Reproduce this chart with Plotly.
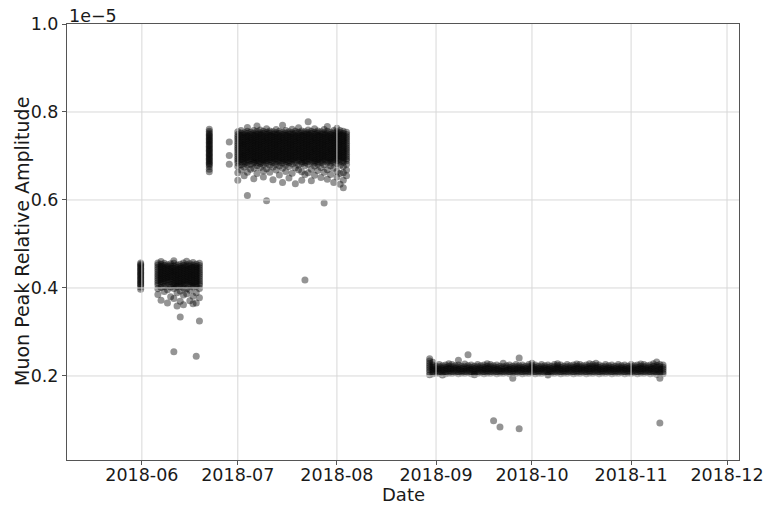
import plotly.graph_objects as go

# Muon peak relative amplitude readings, stored in units of 1e-8
# (the chart's y axis is shown in units of 1e-5). One list of readings per day.

early_june_dates = ["2018-05-31 15:00"]
early_june_values = [
    [397, 402, 406, 409, 412, 415, 418, 421, 424, 427, 430, 433, 436, 439, 442, 445, 448, 451, 454, 457],
]

june_dates = ["2018-06-06", "2018-06-07", "2018-06-08", "2018-06-09", "2018-06-10", "2018-06-11",
              "2018-06-12", "2018-06-13", "2018-06-14", "2018-06-15", "2018-06-16", "2018-06-17",
              "2018-06-18", "2018-06-19"]
june_values = [
    [385, 398, 407, 412, 417, 422, 427, 432, 437, 442, 447, 452, 457],
    [372, 401, 409, 414, 419, 424, 429, 434, 439, 444, 449, 454, 460],
    [392, 404, 411, 416, 421, 426, 431, 436, 441, 446, 451, 456],
    [366, 396, 406, 413, 418, 423, 428, 433, 438, 443, 448, 453],
    [380, 402, 408, 415, 420, 425, 430, 435, 440, 445, 450, 455],
    [255, 376, 399, 405, 410, 415, 420, 425, 430, 435, 440, 445, 450, 456, 462],
    [359, 389, 403, 407, 412, 417, 422, 427, 432, 437, 442, 447, 452],
    [334, 370, 393, 404, 409, 414, 419, 424, 429, 434, 439, 444, 449, 454],
    [362, 384, 400, 406, 411, 416, 421, 426, 431, 436, 441, 446, 451, 457],
    [387, 398, 408, 413, 418, 423, 428, 433, 438, 443, 448, 453, 461],
    [371, 395, 405, 410, 415, 420, 425, 430, 435, 440, 445, 450, 455],
    [364, 381, 402, 407, 412, 417, 422, 427, 432, 437, 442, 447, 452, 458],
    [245, 366, 389, 404, 409, 414, 419, 424, 429, 434, 439, 444, 449, 454],
    [325, 378, 399, 406, 411, 416, 421, 426, 431, 436, 441, 446, 451, 456],
]

late_june_dates = ["2018-06-22 02:00", "2018-06-28 08:00"]
late_june_values = [
    [664, 670, 676, 680, 683, 686, 689, 692, 695, 698, 701, 704, 707, 710, 713, 716, 719, 722,
     725, 728, 731, 734, 737, 740, 743, 746, 749, 752, 756, 761],
    [681, 701, 732],
]

summer_dates = ["2018-07-01", "2018-07-02", "2018-07-03", "2018-07-04", "2018-07-05", "2018-07-06",
                "2018-07-07", "2018-07-08", "2018-07-09", "2018-07-10", "2018-07-11", "2018-07-12",
                "2018-07-13", "2018-07-14", "2018-07-15", "2018-07-16", "2018-07-17", "2018-07-18",
                "2018-07-19", "2018-07-20", "2018-07-21", "2018-07-22", "2018-07-23", "2018-07-24",
                "2018-07-25", "2018-07-26", "2018-07-27", "2018-07-28", "2018-07-29", "2018-07-30",
                "2018-07-31", "2018-08-01", "2018-08-02", "2018-08-03", "2018-08-04"]
summer_values = [
    [645, 662, 676, 684, 689, 694, 699, 704, 709, 714, 719, 724, 729, 734, 739, 744, 749, 755],
    [668, 680, 687, 692, 697, 702, 707, 712, 717, 722, 727, 732, 737, 742, 747, 752, 758],
    [655, 675, 683, 688, 693, 698, 703, 708, 713, 718, 723, 728, 733, 738, 743, 748, 753],
    [610, 663, 679, 686, 691, 696, 701, 706, 711, 716, 721, 726, 731, 736, 741, 746, 751, 756, 765],
    [670, 681, 689, 694, 699, 704, 709, 714, 719, 724, 729, 734, 739, 744, 749, 754],
    [648, 672, 684, 687, 692, 697, 702, 707, 712, 717, 722, 727, 732, 737, 742, 747, 752, 758],
    [660, 678, 685, 690, 695, 700, 705, 710, 715, 720, 725, 730, 735, 740, 745, 750, 755, 768],
    [674, 683, 688, 693, 698, 703, 708, 713, 718, 723, 728, 733, 738, 743, 748, 753, 759],
    [652, 666, 680, 686, 691, 696, 701, 706, 711, 716, 721, 726, 731, 736, 741, 746, 751, 756],
    [598, 671, 684, 689, 694, 699, 704, 709, 714, 719, 724, 729, 734, 739, 744, 749, 754, 762],
    [663, 679, 687, 692, 697, 702, 707, 712, 717, 722, 727, 732, 737, 742, 747, 752, 757],
    [646, 675, 685, 690, 695, 700, 705, 710, 715, 720, 725, 730, 735, 740, 745, 750, 755],
    [668, 681, 688, 693, 698, 703, 708, 713, 718, 723, 728, 733, 738, 743, 748, 753, 760],
    [657, 677, 686, 691, 696, 701, 706, 711, 716, 721, 726, 731, 736, 741, 746, 751, 756],
    [640, 672, 684, 689, 694, 699, 704, 709, 714, 719, 724, 729, 734, 739, 744, 749, 754, 770],
    [665, 680, 687, 692, 697, 702, 707, 712, 717, 722, 727, 732, 737, 742, 747, 752, 758],
    [650, 676, 685, 690, 695, 700, 705, 710, 715, 720, 725, 730, 735, 740, 745, 750, 755],
    [661, 682, 688, 693, 698, 703, 708, 713, 718, 723, 728, 733, 738, 743, 748, 753, 761],
    [637, 673, 686, 691, 696, 701, 706, 711, 716, 721, 726, 731, 736, 741, 746, 751, 756],
    [669, 679, 689, 694, 699, 704, 709, 714, 719, 724, 729, 734, 739, 744, 749, 754, 764],
    [645, 664, 683, 687, 692, 697, 702, 707, 712, 717, 722, 727, 732, 737, 742, 747, 752, 757],
    [418, 658, 678, 685, 690, 695, 700, 705, 710, 715, 720, 725, 730, 735, 740, 745, 750, 755],
    [662, 681, 688, 693, 698, 703, 708, 713, 718, 723, 728, 733, 738, 743, 748, 753, 759, 778],
    [644, 670, 686, 691, 696, 701, 706, 711, 716, 721, 726, 731, 736, 741, 746, 751, 756],
    [656, 677, 684, 689, 694, 699, 704, 709, 714, 719, 724, 729, 734, 739, 744, 749, 754, 762],
    [667, 682, 687, 692, 697, 702, 707, 712, 717, 722, 727, 732, 737, 742, 747, 752, 757],
    [651, 674, 685, 690, 695, 700, 705, 710, 715, 720, 725, 730, 735, 740, 745, 750, 755],
    [593, 663, 680, 688, 693, 698, 703, 708, 713, 718, 723, 728, 733, 738, 743, 748, 753, 760],
    [647, 669, 686, 691, 696, 701, 706, 711, 716, 721, 726, 731, 736, 741, 746, 751, 756, 767],
    [658, 678, 684, 689, 694, 699, 704, 709, 714, 719, 724, 729, 734, 739, 744, 749, 754],
    [640, 672, 687, 692, 697, 702, 707, 712, 717, 722, 727, 732, 737, 742, 747, 752, 758],
    [652, 665, 683, 690, 695, 700, 705, 710, 715, 720, 725, 730, 735, 740, 745, 750, 755, 763],
    [636, 660, 679, 688, 693, 698, 703, 708, 713, 718, 723, 728, 733, 738, 743, 748, 753, 758],
    [628, 645, 662, 676, 686, 691, 696, 701, 706, 711, 716, 721, 726, 731, 736, 741, 746, 751, 756],
    [655, 668, 681, 689, 694, 699, 704, 709, 714, 719, 724, 729, 734, 739, 744, 749, 754],
]

autumn_dates = ["2018-08-30", "2018-08-31",
                "2018-09-01", "2018-09-02", "2018-09-03", "2018-09-04", "2018-09-05", "2018-09-06",
                "2018-09-07", "2018-09-08", "2018-09-09", "2018-09-10", "2018-09-11", "2018-09-12",
                "2018-09-13", "2018-09-14", "2018-09-15", "2018-09-16", "2018-09-17", "2018-09-18",
                "2018-09-19", "2018-09-20", "2018-09-21", "2018-09-22", "2018-09-23", "2018-09-24",
                "2018-09-25", "2018-09-26", "2018-09-27", "2018-09-28", "2018-09-29", "2018-09-30",
                "2018-10-01", "2018-10-02", "2018-10-03", "2018-10-04", "2018-10-05", "2018-10-06",
                "2018-10-07", "2018-10-08", "2018-10-09", "2018-10-10", "2018-10-11", "2018-10-12",
                "2018-10-13", "2018-10-14", "2018-10-15", "2018-10-16", "2018-10-17", "2018-10-18",
                "2018-10-19", "2018-10-20", "2018-10-21", "2018-10-22", "2018-10-23", "2018-10-24",
                "2018-10-25", "2018-10-26", "2018-10-27", "2018-10-28", "2018-10-29", "2018-10-30",
                "2018-10-31",
                "2018-11-01", "2018-11-02", "2018-11-03", "2018-11-04", "2018-11-05", "2018-11-06",
                "2018-11-07", "2018-11-08", "2018-11-09", "2018-11-10", "2018-11-11"]
autumn_values = [
    [203, 209, 214, 219, 224, 229, 234, 239],
    [205, 210, 215, 220, 225, 231],
    [207, 212, 217, 222],
    [206, 211, 216, 221, 226],
    [208, 213, 218, 223, 202],
    [205, 210, 215, 220, 225],
    [207, 212, 217, 222, 228],
    [206, 211, 216, 221, 226],
    [208, 213, 218, 223],
    [205, 210, 215, 220, 225, 236],
    [207, 212, 217, 222],
    [206, 211, 216, 221, 227],
    [208, 213, 218, 223, 248],
    [205, 210, 215, 220, 225],
    [207, 212, 217, 222, 203],
    [206, 211, 216, 221, 226],
    [208, 213, 218, 223],
    [205, 210, 215, 220, 225],
    [207, 212, 217, 222, 228],
    [206, 211, 216, 221, 226],
    [98, 208, 213, 218, 223],
    [205, 210, 215, 220, 225],
    [84, 207, 212, 217, 222],
    [206, 211, 216, 221, 229],
    [208, 213, 218, 223],
    [205, 210, 215, 220, 225],
    [195, 207, 212, 217, 222],
    [206, 211, 216, 221, 226],
    [80, 208, 213, 218, 223, 241],
    [205, 210, 215, 220, 225],
    [207, 212, 217, 222],
    [206, 211, 216, 221, 226],
    [208, 213, 218, 223, 229],
    [205, 210, 215, 220, 225],
    [207, 212, 217, 222],
    [206, 211, 216, 221, 226],
    [208, 213, 218, 223],
    [205, 210, 215, 220, 225, 202],
    [207, 212, 217, 222],
    [206, 211, 216, 221, 226],
    [208, 213, 218, 223, 228],
    [205, 210, 215, 220, 225],
    [207, 212, 217, 222],
    [206, 211, 216, 221, 226],
    [208, 213, 218, 223],
    [205, 210, 215, 220, 225],
    [207, 212, 217, 222, 227],
    [206, 211, 216, 221, 226],
    [208, 213, 218, 223],
    [205, 210, 215, 220, 225],
    [207, 212, 217, 222, 228],
    [206, 211, 216, 221, 226],
    [208, 213, 218, 223, 229],
    [205, 210, 215, 220, 225],
    [207, 212, 217, 222],
    [206, 211, 216, 221, 226],
    [208, 213, 218, 223],
    [205, 210, 215, 220, 225],
    [207, 212, 217, 222],
    [206, 211, 216, 221, 226],
    [208, 213, 218, 223],
    [205, 210, 215, 220, 225],
    [207, 212, 217, 222],
    [206, 211, 216, 221, 226],
    [208, 213, 218, 223],
    [205, 210, 215, 220, 225],
    [207, 212, 217, 222, 227],
    [206, 211, 216, 221, 226],
    [208, 213, 218, 223],
    [205, 210, 215, 220, 225],
    [207, 212, 217, 222, 228],
    [204, 209, 214, 219, 224, 232],
    [93, 195, 206, 211, 216, 221, 226],
    [205, 210, 215, 220, 225],
]

month_ticks = ["2018-06-01", "2018-07-01", "2018-08-01", "2018-09-01",
               "2018-10-01", "2018-11-01", "2018-12-01"]
month_labels = ["2018-06", "2018-07", "2018-08", "2018-09", "2018-10", "2018-11", "2018-12"]
y_ticks = [0.2, 0.4, 0.6, 0.8, 1.0]
y_labels = ["0.2", "0.4", "0.6", "0.8", "1.0"]

# ---- build the point table ----
xs, ys = [], []
for dates, values in [(early_june_dates, early_june_values), (june_dates, june_values),
                      (late_june_dates, late_june_values), (summer_dates, summer_values),
                      (autumn_dates, autumn_values)]:
    for d, vals in zip(dates, values):
        for v in vals:
            xs.append(d)
            ys.append(v / 1000.0)  # 1e-8 units -> 1e-5 units

FONT = "DejaVu Sans"
TXT = "#1a1a1a"
fig = go.Figure()
fig.add_trace(go.Scatter(
    x=xs, y=ys, mode="markers",
    marker=dict(color="black", size=7, opacity=0.42, line=dict(width=0)),
    hoverinfo="skip", showlegend=False,
))

for t in month_ticks:
    fig.add_shape(type="line", xref="x", yref="paper", x0=t, x1=t, y0=0, y1=1,
                  line=dict(color="#d8d8d8", width=1), layer="above")
for v in y_ticks[:-1]:
    fig.add_shape(type="line", xref="paper", yref="y", x0=0, x1=1, y0=v, y1=v,
                  line=dict(color="#d8d8d8", width=1), layer="above")

fig.add_annotation(text="1e\u22125", xref="paper", yref="paper", x=0, y=1,
                   xanchor="left", yanchor="bottom", showarrow=False, yshift=-4,
                   font=dict(family=FONT, size=17.5, color=TXT))
# axis titles
fig.add_annotation(text="Date", xref="paper", yref="paper", x=0.5, y=0,
                   xanchor="center", yanchor="middle", yshift=-34, showarrow=False,
                   font=dict(family=FONT, size=18, color=TXT))
fig.add_annotation(text="Muon Peak Relative Amplitude", xref="paper", yref="paper", x=0, y=0.5,
                   xanchor="center", yanchor="middle", xshift=-45, textangle=-90, showarrow=False,
                   font=dict(family=FONT, size=19, color=TXT))

fig.update_layout(
    width=765, height=506,
    margin=dict(l=67, r=26, t=24, b=46),
    paper_bgcolor="white", plot_bgcolor="white",
    font=dict(family=FONT, size=17.5, color=TXT),
    xaxis=dict(
        range=["2018-05-08 14:00", "2018-12-04 18:00"],
        tickvals=month_ticks, ticktext=month_labels,
        showgrid=False, zeroline=False, automargin=False,
        showline=True, linecolor="#555", linewidth=1, mirror=True,
        ticks="outside", ticklen=4, tickcolor="#555", ticklabelstandoff=-5,
        tickfont=dict(family=FONT, size=17.5, color=TXT),
    ),
    yaxis=dict(
        range=[0.009, 1.0],
        tickvals=y_ticks, ticktext=y_labels,
        showgrid=False, zeroline=False, automargin=False,
        showline=True, linecolor="#555", linewidth=1, mirror=True,
        ticks="outside", ticklen=4, tickcolor="#555",
        tickfont=dict(family=FONT, size=17.5, color=TXT),
    ),
)

fig.write_html("out.html")
